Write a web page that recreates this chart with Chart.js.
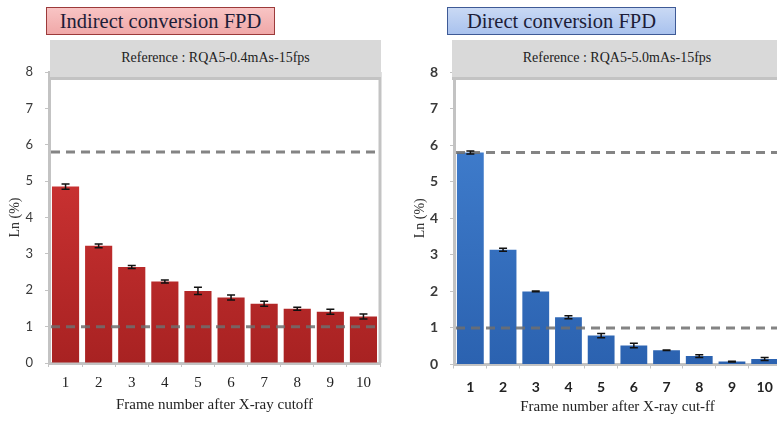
<!DOCTYPE html>
<html>
<head>
<meta charset="utf-8">
<script src="https://cdn.jsdelivr.net/npm/chart.js@4.4.1/dist/chart.umd.min.js"></script>
<style>
  html, body { margin: 0; padding: 0; background: #fff; overflow: hidden; }
  body { width: 777px; height: 421px; position: relative; }
  canvas { position: absolute; top: 0; }
  .tag {
    position: absolute; top: 7px; height: 28px; line-height: 27px;
    box-sizing: border-box; text-align: center;
    font-family: "Liberation Serif", "DejaVu Serif", serif; font-size: 20.5px; color: #1d1d38;
  }
  .strip {
    position: absolute; top: 40px; height: 40px; box-sizing: border-box;
    background: #d9d9d9; border-bottom: 3px solid #c3c3c3;
    font-family: "Liberation Serif", serif; font-size: 14px; color: #222;
    line-height: 36px; text-align: center; z-index: 2;
  }
</style>
</head>
<body>
<div class="tag" style="left:46px;width:229px;background:linear-gradient(#f8c4c4,#f0a8a8);border:1px solid #9c3a3a;">Indirect conversion FPD</div>
<div class="tag" style="left:447px;width:229px;background:linear-gradient(#c9d9f4,#a9c2ee);border:1px solid #3e5a96;">Direct conversion FPD</div>
<div class="strip" style="left:50px;width:331px;">Reference : RQA5-0.4mAs-15fps</div>
<div class="strip" style="left:452px;width:330px;">Reference : RQA5-5.0mAs-15fps</div>

<canvas id="left" width="390" height="421" style="left:0"></canvas>
<canvas id="right" width="410" height="421" style="left:390px"></canvas>

<script>
// data
const frames = ["1", "2", "3", "4", "5", "6", "7", "8", "9", "10"];
const indirectLn = [4.85, 3.22, 2.64, 2.24, 1.98, 1.80, 1.63, 1.49, 1.41, 1.28];
const indirectErr = [0.07, 0.05, 0.04, 0.04, 0.10, 0.07, 0.07, 0.04, 0.07, 0.07];
const directLn = [5.80, 3.14, 2.00, 1.29, 0.79, 0.52, 0.39, 0.23, 0.08, 0.15];
const directErr = [0.04, 0.04, 0.01, 0.04, 0.06, 0.06, 0.01, 0.04, 0.01, 0.04];
const refLevels = [5.8, 1.0];
const yMin = 0;
const yMax = 8;

const frameColor = "#c3c3c3";

// error bars on top of the bars
const errorBars = {
  id: "errorBars",
  afterDatasetsDraw(chart, args, opts) {
    const { ctx } = chart;
    const y = chart.scales.y;
    const vals = chart.data.datasets[0].data;
    ctx.save();
    ctx.strokeStyle = opts.color;
    ctx.lineWidth = 1.5;
    chart.getDatasetMeta(0).data.forEach((bar, i) => {
      const hi = y.getPixelForValue(vals[i] + opts.errors[i]);
      const lo = y.getPixelForValue(vals[i] - opts.errors[i]);
      ctx.beginPath();
      ctx.moveTo(bar.x, hi); ctx.lineTo(bar.x, lo);
      ctx.moveTo(bar.x - 4, hi); ctx.lineTo(bar.x + 4, hi);
      ctx.moveTo(bar.x - 4, lo); ctx.lineTo(bar.x + 4, lo);
      ctx.stroke();
    });
    ctx.restore();
  }
};

// dashed reference levels + right frame line
const refLines = {
  id: "refLines",
  afterDatasetsDraw(chart) {
    const { ctx, chartArea } = chart;
    const y = chart.scales.y;
    ctx.save();
    ctx.strokeStyle = frameColor;
    ctx.lineWidth = 3;
    ctx.beginPath();
    ctx.moveTo(chartArea.right, chartArea.top);
    ctx.lineTo(chartArea.right, chartArea.bottom);
    ctx.stroke();
    ctx.strokeStyle = "rgba(110,110,110,0.85)";
    ctx.setLineDash([9, 6]);
    refLevels.forEach(v => {
      const py = y.getPixelForValue(v);
      ctx.beginPath();
      ctx.moveTo(chartArea.left + 2, py);
      ctx.lineTo(chartArea.right, py);
      ctx.stroke();
    });
    ctx.restore();
  }
};

function gradient(top, bottom) {
  return (context) => {
    const area = context.chart.chartArea;
    if (!area) return bottom;
    const g = context.chart.ctx.createLinearGradient(0, area.top, 0, area.bottom);
    g.addColorStop(0, top);
    g.addColorStop(1, bottom);
    return g;
  };
}

function makeChart(id, values, errors, colors, yAxisWidth, padRight, style) {
  return new Chart(document.getElementById(id), {
    type: "bar",
    data: {
      labels: frames,
      datasets: [{
        data: values,
        backgroundColor: gradient(colors[0], colors[1]),
        borderWidth: 0,
        barPercentage: 0.82,
        categoryPercentage: 1.0
      }]
    },
    options: {
      responsive: false,
      animation: false,
      layout: { padding: { top: 72, left: 0, right: padRight, bottom: 0 } },
      plugins: {
        legend: { display: false },
        tooltip: { enabled: false },
        errorBars: { errors: errors, color: "#111" }
      },
      scales: {
        x: {
          afterFit: (s) => { s.height = 421 - style.bottom; },
          grid: { display: true, drawOnChartArea: false, offset: true, color: frameColor, tickLength: 4 },
          border: { color: frameColor, width: 3 },
          ticks: { color: "#222", padding: style.xPad, font: style.xFont },
          title: {
            display: true,
            text: style.xTitle,
            color: "#222",
            font: { family: "Liberation Serif", size: 15 },
            padding: { top: 0, bottom: style.xTitlePad }
          }
        },
        y: {
          min: yMin,
          max: yMax,
          afterFit: (s) => { s.width = yAxisWidth; },
          grid: { display: true, drawOnChartArea: false, color: frameColor, tickLength: 4 },
          border: { color: frameColor, width: 3 },
          ticks: { stepSize: 1, color: "#3a3a3a", padding: style.yPad, font: style.yFont },
          title: {
            display: true,
            text: "Ln (%)",
            color: "#333",
            font: { family: "Liberation Serif", size: 14 },
            padding: { top: style.yTitlePad, bottom: 0 }
          }
        }
      }
    },
    plugins: [refLines, errorBars]
  });
}

makeChart("left", indirectLn, indirectErr, ["#dc3a3a", "#a82222"], 49, 10, {
  bottom: 363,
  xPad: 7,
  xFont: { family: "Liberation Serif", size: 15 },
  yPad: 12,
  yFont: { family: "Lato", size: 13 },
  xTitle: "Frame number after X-ray cutoff",
  xTitlePad: 7,
  yTitlePad: 7
});

makeChart("right", directLn, directErr, ["#4584d4", "#2b62b0"], 64, 19, {
  bottom: 364.5,
  xPad: 11,
  xFont: { family: "Lato", size: 14, weight: "bold" },
  yPad: 12,
  yFont: { family: "Lato", size: 14, weight: "bold" },
  xTitle: "Frame number after X-ray cut-ff",
  xTitlePad: 5,
  yTitlePad: 22
});
</script>
</body>
</html>
